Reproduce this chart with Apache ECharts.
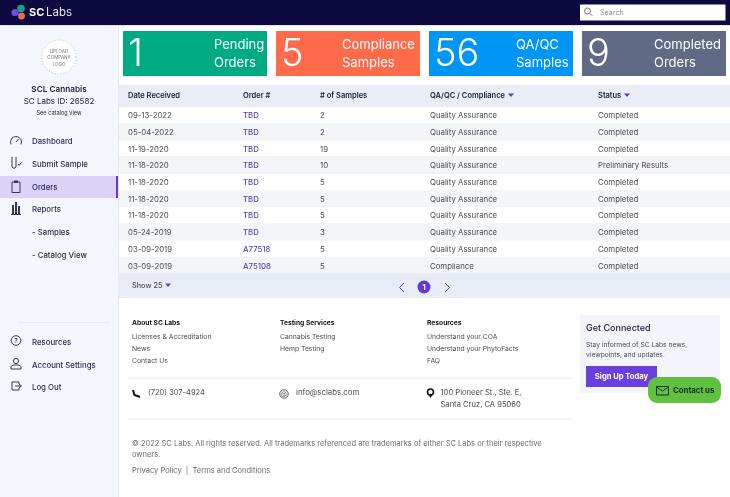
<!DOCTYPE html>
<html><head><meta charset="utf-8">
<style>html,body{margin:0;padding:0;background:#fff}#c{width:730px;height:497px}</style>
<script src="https://cdn.jsdelivr.net/npm/echarts@6/dist/echarts.min.js"></script>
</head><body><div id="c"></div>
<script>
const dates=['09-13-2022','05-04-2022','11-19-2020','11-18-2020','11-18-2020','11-18-2020','11-18-2020','05-24-2019','03-09-2019','03-09-2019'];
const orders=['TBD','TBD','TBD','TBD','TBD','TBD','TBD','TBD','A77518','A75108'];
const samples=[2,2,19,10,5,5,5,3,5,5];
const kinds=['Quality Assurance','Quality Assurance','Quality Assurance','Quality Assurance','Quality Assurance','Quality Assurance','Quality Assurance','Quality Assurance','Quality Assurance','Compliance'];
const statuses=['Completed','Completed','Completed','Preliminary Results','Completed','Completed','Completed','Completed','Completed','Completed'];
const headers=['Date Received','Order #','# of Samples','QA/QC / Compliance','Status'];
const tileNumbers=['1','5','56','9'];
const tileLabels=[['Pending','Orders'],['Compliance','Samples'],['QA/QC','Samples'],['Completed','Orders']];
const navTop=['Dashboard','Submit Sample','Orders','Reports','- Samples','- Catalog View'];
const navBottom=['Resources','Account Settings','Log Out'];

const F='Inter, "Open Sans", sans-serif';
const g=[];
function R(x,y,w,h,fill,r){g.push({type:'rect',shape:{x,y,width:w,height:h,r:r||0},style:{fill}})}
function T(text,x,y,size,fill,weight,align){g.push({type:'text',x,y,style:{text,fontFamily:F,fontSize:size,fill,fontWeight:weight||400,align:align||'left',verticalAlign:'middle'}})}
function L(pts,stroke,w){g.push({type:'polyline',shape:{points:pts},style:{fill:'none',stroke,lineWidth:w||1}})}
function P(pts,fill){g.push({type:'polygon',shape:{points:pts},style:{fill}})}
function C(cx,cy,r,fill,stroke,w,dash){g.push({type:'circle',shape:{cx,cy,r},style:{fill:fill||'none',stroke:stroke||'none',lineWidth:w||1,lineDash:dash||null}})}
const DK='#1d1b3f',GR='#4a4a55',PU='#5f37d6',IC='#3a3856';

// page frame
R(0,25,118,472,'#f3f6fc');R(118,25,1,472,'#e6e9f0');
R(0,0,730,25,'#0c0a3e');R(0,25,730,1,'#dfe2ea');
// logo
C(21,8.5,3.8,'#1a9f8c');C(15,12.5,3.6,'#6a4fe0');C(21.5,16,3.4,'#e8704f');
T('SC',29,13,11,'#fff',700);T('Labs',46,13,11.5,'#e8e8f2',400);
// search
R(580,4.5,145.5,16,'#fff');C(587.5,11,3,null,'#777',1);L([[590,13.5],[592.5,16]],'#777',1);T('Search',600,13,7.2,'#8a8a92');
// tiles
const tileX=[123,276,429,582],tileW=144,tileC=['#00ab84','#ff6b4a','#0096f5','#616a85'],labelX=[214,342,516,654];
tileNumbers.forEach((n,i)=>{R(tileX[i],31,tileW,45,tileC[i]);
 T(n,tileX[i]+5,55,38,'#fff',300);
 T(tileLabels[i][0],labelX[i],45.5,13,'#fff',400);T(tileLabels[i][1],labelX[i],63,13,'#fff',400);});
// table header
R(119,85,611,22,'#e9edf6');
const colX=[128,243,320,430,598];
headers.forEach((h,i)=>T(h,colX[i],96,7.5,DK,600));
P([[508,93.5],[514,93.5],[511,97]],PU);P([[624,93.5],[630,93.5],[627,97]],PU);
// table footer
R(119,274,611,24,'#e8ecf7');
T('Show 25',132,285.5,7.3,GR,500);P([[165,283.5],[171,283.5],[168,287]],PU);
L([[404,283],[399.5,287.5],[404,292]],PU,1);L([[445,283],[449.5,287.5],[445,292]],PU,1);
C(424,287,6.5,PU);T('1',424,287.5,7.5,'#fff',700,'center');
// sidebar head
C(59,57,17,'#fff','#bdbdc5',1,[1,2]);
T('UPLOAD',59,52,4.6,'#777',400,'center');T('COMPANY',59,58,4.6,'#777',400,'center');T('LOGO',59,65,4.6,'#777',400,'center');
T('SCL Cannabis',59,89.5,8.2,DK,600,'center');T('SC Labs ID: 26582',59,101.5,8,DK,400,'center');T('See catalog view',59,113.5,5.6,DK,400,'center');
// nav
R(0,176,116,22,'#dcd2f7');R(116,176,2,22,PU);
const navY=[142,164.5,187.5,209.5,232.5,255.5];
navTop.forEach((s,i)=>T(s,32,navY[i],7.8,i==2?'#2a2360':'#2f2d52',500));
g.push({type:'arc',shape:{cx:16,cy:142,r:5.5,startAngle:Math.PI*0.85,endAngle:Math.PI*0.15,clockwise:true},style:{fill:'none',stroke:IC,lineWidth:1}});L([[16,142],[18.5,139]],IC,1);
L([[12,157],[12,167],[14,168.5],[16,167],[16,157]],IC,1);L([[18,164],[19,165.5],[21.5,162.5]],IC,1);
g.push({type:'rect',shape:{x:12,y:182,width:8,height:10.5},style:{fill:'none',stroke:IC,lineWidth:1}});R(14,180.5,4,2.5,IC);
R(12,205,2,9,IC);R(15,202,2,12,IC);R(18,206,2,8,IC);R(11,214,10,1,IC);
R(18,322,92,1,'#e8ebf2');
const navBY=[342.5,365.5,387.5];navBottom.forEach((s,i)=>T(s,32,navBY[i],7.8,'#2f2d52',500));
C(16,340.5,4.8,null,IC,1);T('?',16,341,6.5,IC,600,'center');
C(16,361,2.6,null,IC,1);L([[11,369],[11,366.5],[13,365],[19,365],[21,366.5],[21,369],[11,369]],IC,1);
L([[19,384],[19,382],[12,382],[12,390],[19,390],[19,388]],IC,1);L([[15,386],[21,386]],IC,1);L([[19,384],[21.5,386],[19,388]],IC,1);
// footer links
T('About SC Labs',132,323,6.7,'#111',700);T('Licenses & Accreditation',132,336.5,6.8,GR,400);T('News',132,348.5,6.8,GR,400);T('Contact Us',132,360.5,6.8,GR,400);
T('Testing Services',280,323,6.7,'#111',700);T('Cannabis Testing',280,336.5,6.8,GR,400);T('Hemp Testing',280,348.5,6.8,GR,400);
T('Resources',427,323,6.7,'#111',700);T('Understand your COA',427,336.5,6.8,GR,400);T('Understand your PhytoFacts',427,348.5,6.8,GR,400);T('FAQ',427,360.5,6.8,GR,400);
R(128,377.5,444,1.5,'#f0f1f4');R(128,418.5,444,1.5,'#f0f1f4');
L([[133,390],[134.5,395],[140,397]],'#111',2);
T('(720) 307-4924',148,393,7.5,GR);
C(284,394,4.2,null,'#555',1);T('@',284,394,6,'#555',400,'center');T('info@sclabs.com',296,393,7.8,GR);
C(430.5,392,3,null,'#111',1.6);P([[428,394],[433,394],[430.5,398]],'#111');
T('100 Pioneer St., Ste. E,',440.5,393,7.6,GR);T('Santa Cruz, CA 95060',440.5,404.5,7.6,GR);
T('© 2022 SC Labs. All rights reserved. All trademarks referenced are trademarks of either SC Labs or their respective',132,443.5,7.5,'#6a6a70');
T('owners.',132,454.5,7.5,'#6a6a70');
T('Privacy Policy  |  Terms and Conditions',132,470.5,7.5,'#6a6a70');
// get connected
R(580,315,140,78,'#f3f5fa');
T('Get Connected',586,328.5,9,DK,500);
T('Stay informed of SC Labs news,',586,345,6.7,GR);T('viewpoints, and updates.',586,355,6.7,GR);
R(586,366,71,21,'#6a3fe0');T('Sign Up Today',621.5,377,7.6,'#fff',700,'center');
R(648,377,73,26,'#62c040',9);
g.push({type:'rect',shape:{x:656.5,y:386.5,width:12,height:8.5},style:{fill:'none',stroke:'#12301a',lineWidth:1}});L([[656.5,387],[662.5,391],[668.5,387]],'#12301a',1);
T('Contact us',673,391,7.8,'#12301a',700);

const GRID={left:119,top:107,width:611,height:167};
const option={animation:false,
 grid:GRID,
 xAxis:{type:'value',min:0,max:611,show:false},
 yAxis:{type:'category',inverse:true,data:dates,show:false},
 series:[{type:'custom',coordinateSystem:'cartesian2d',silent:true,clip:false,
  encode:{y:0},data:dates.map((d,i)=>[d,i]),
  renderItem(params,api){
   const i=api.value(1);const c=api.coord([0,i]);const h=api.size([0,1])[1];
   const kids=[{type:'rect',shape:{x:119,y:c[1]-h/2,width:611,height:h},style:{fill:i%2?'#f3f6f9':'#fff'}},
     {type:'rect',shape:{x:119,y:c[1]+h/2-0.5,width:611,height:0.6},style:{fill:'#e8ebf1'}}];
   const vals=[dates[i],orders[i],String(samples[i]),kinds[i],statuses[i]];
   vals.forEach((v,k)=>kids.push({type:'text',style:{text:v,x:colX[k],y:c[1]+0.5,fontFamily:F,fontSize:7.8,fontWeight:k==1?500:400,fill:k==1?'#5a45b5':GR,verticalAlign:'middle',align:'left'}}));
   return {type:'group',children:kids};
  }}],
 graphic:{elements:g}
};
echarts.init(document.getElementById('c')).setOption(option);
</script></body></html>
